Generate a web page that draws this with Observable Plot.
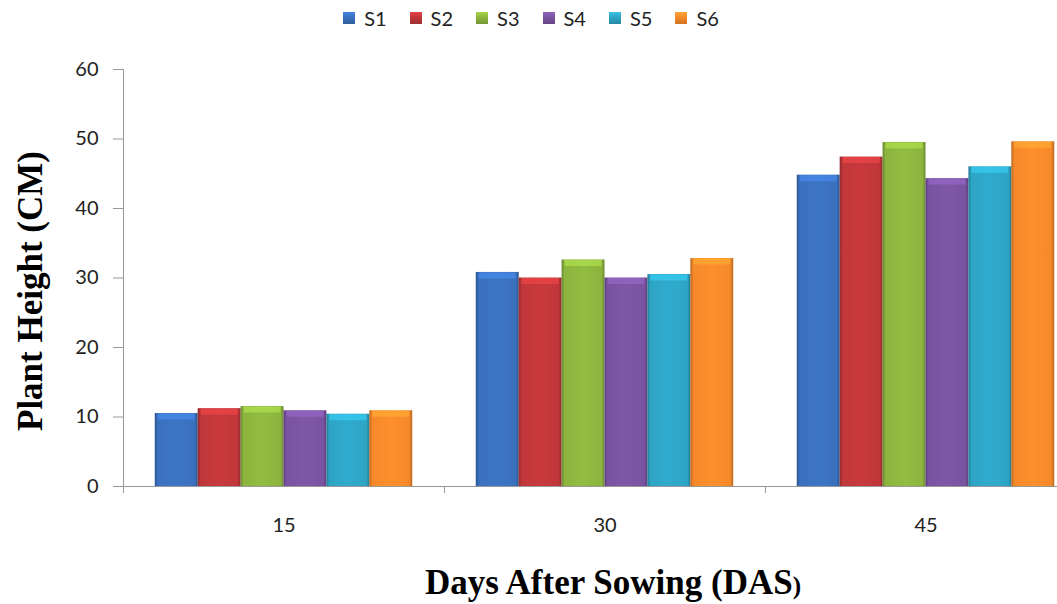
<!DOCTYPE html>
<html>
<head>
<meta charset="utf-8">
<script src="https://cdn.jsdelivr.net/npm/d3@7"></script>
<script src="https://cdn.jsdelivr.net/npm/@observablehq/plot@0.6"></script>
<style>
  html, body { margin: 0; padding: 0; background: #fff; overflow: hidden; }
  #page { position: relative; width: 1057px; height: 604px; overflow: hidden; font-family: Lato, "Open Sans", sans-serif; }
  #legend { height: 36px; display: flex; justify-content: center; align-items: center; gap: 23px; font-size: 20px; color: #222; padding-left: 5px; }
  .item { display: flex; align-items: center; }
  .sw { width: 12px; height: 12px; margin-right: 9px; }
  #chart { width: 1086px; }
  #chart svg { display: block; overflow: visible; max-width: none !important; height: 568px !important; }
  #chart [aria-label="y-axis tick"] path, #chart [aria-label="y-axis"] line { stroke: #999; }
  .title { position: absolute; font-family: "Liberation Serif", "Times New Roman", serif; font-weight: bold; color: #000; white-space: nowrap; text-align: center; }
  #ytitle { left: -169.5px; top: 270.5px; width: 400px; height: 40px; line-height: 40px; font-size: 35px; transform: rotate(-90deg); }
  #xtitle { left: 413px; top: 566px; width: 400px; line-height: 34px; font-size: 35px; }
</style>
</head>
<body>
<div id="page">
  <div id="legend"></div>
  <div id="chart"></div>
  <div class="title" id="ytitle">Plant Height (CM)</div>
  <div class="title" id="xtitle">Days After Sowing (DAS<span style="font-size:0.72em">)</span></div>
</div>
<svg width="0" height="0" style="position:absolute"><defs id="grads"></defs></svg>
<script>
// Plant height (cm) at 15, 30 and 45 days after sowing, per treatment
const days = ["15", "30", "45"];
const series = ["S1", "S2", "S3", "S4", "S5", "S6"];
const S1 = [10.5, 30.8, 44.8];
const S2 = [11.2, 30.0, 47.4];
const S3 = [11.5, 32.6, 49.5];
const S4 = [10.9, 30.0, 44.3];
const S5 = [10.4, 30.5, 46.0];
const S6 = [10.9, 32.8, 49.6];
const yTicks = [0, 10, 20, 30, 40, 50, 60];

const values = [S1, S2, S3, S4, S5, S6];
const colors = ["#3a70bd", "#c0373a", "#8cb43e", "#7953a0", "#2ea4c4", "#f5892a"];

// bevel-style gradients, one per series
const defs = d3.select("#grads");
series.forEach((s, i) => {
  const base = d3.color(colors[i]);
  const g = defs.append("linearGradient").attr("id", `bar-${s}`).attr("x1", 0).attr("x2", 1).attr("y1", 0).attr("y2", 0);
  [[0, base.darker(0.8)], [0.07, base], [0.5, base.brighter(0.12)], [0.93, base], [1, base.darker(0.8)]]
    .forEach(([o, c]) => g.append("stop").attr("offset", o).attr("stop-color", c.formatHex()));
});
const highlight = Object.fromEntries(series.map((s, i) => [s, d3.color(colors[i]).brighter(0.7).formatHex()]));

// legend
const legend = d3.select("#legend");
series.forEach((s, i) => {
  const it = legend.append("div").attr("class", "item");
  const c = d3.color(colors[i]);
  it.append("div").attr("class", "sw")
    .style("background", `linear-gradient(180deg, ${c.brighter(0.5).formatHex()} 0%, ${c.formatHex()} 45%, ${c.darker(0.5).formatHex()} 100%)`);
  it.append("span").text(s);
});

const rows = days.flatMap((day, i) => series.map((s, j) => ({day, series: s, value: values[j][i]})));

const plot = Plot.plot({
  width: 1086,
  height: 568,
  marginLeft: 123,
  marginRight: 0,
  marginTop: 33,
  marginBottom: 118,
  style: {fontFamily: "Lato, sans-serif", fontSize: "20px", color: "#222", background: "transparent", overflow: "visible"},
  fx: {domain: days, padding: 0, round: false, label: null, axis: "bottom", tickSize: 0, tickPadding: 31},
  x: {domain: series, paddingInner: 0, paddingOuter: 0.74, round: false, axis: null},
  y: {domain: [0, 60], ticks: yTicks, tickSize: 10, tickPadding: 15, label: null},
  color: {type: "identity"},
  marks: [
    Plot.barY(rows, {fx: "day", x: "series", y: "value", fill: d => `url(#bar-${d.series})`}),
    Plot.tickY(rows, {fx: "day", x: "series", y: "value", stroke: d => highlight[d.series], strokeWidth: 6, strokeOpacity: 0.6, dy: 3, insetLeft: 3, insetRight: 3}),
    Plot.ruleY([0], {stroke: "#999"})
  ]
});
document.getElementById("chart").appendChild(plot);

// y-axis line and category boundary ticks, placed from the plot's own scales
const fx = plot.scale("fx");
const y = plot.scale("y");
const y0 = y.apply(0);
const starts = days.map(d => fx.apply(d));
const bounds = starts.concat([starts[starts.length - 1] + fx.bandwidth]);
const svg = d3.select(plot.tagName === "svg" ? plot : plot.querySelector("svg"));
const g = svg.append("g").attr("stroke", "#999").attr("stroke-width", 1);
g.selectAll("line.b").data(bounds).join("line")
  .attr("x1", d => d + 0.5).attr("x2", d => d + 0.5).attr("y1", y0).attr("y2", y0 + 7);
g.append("line")
  .attr("x1", bounds[0] + 0.5).attr("x2", bounds[0] + 0.5)
  .attr("y1", y.apply(60)).attr("y2", y0 + 3);
</script>
</body>
</html>
